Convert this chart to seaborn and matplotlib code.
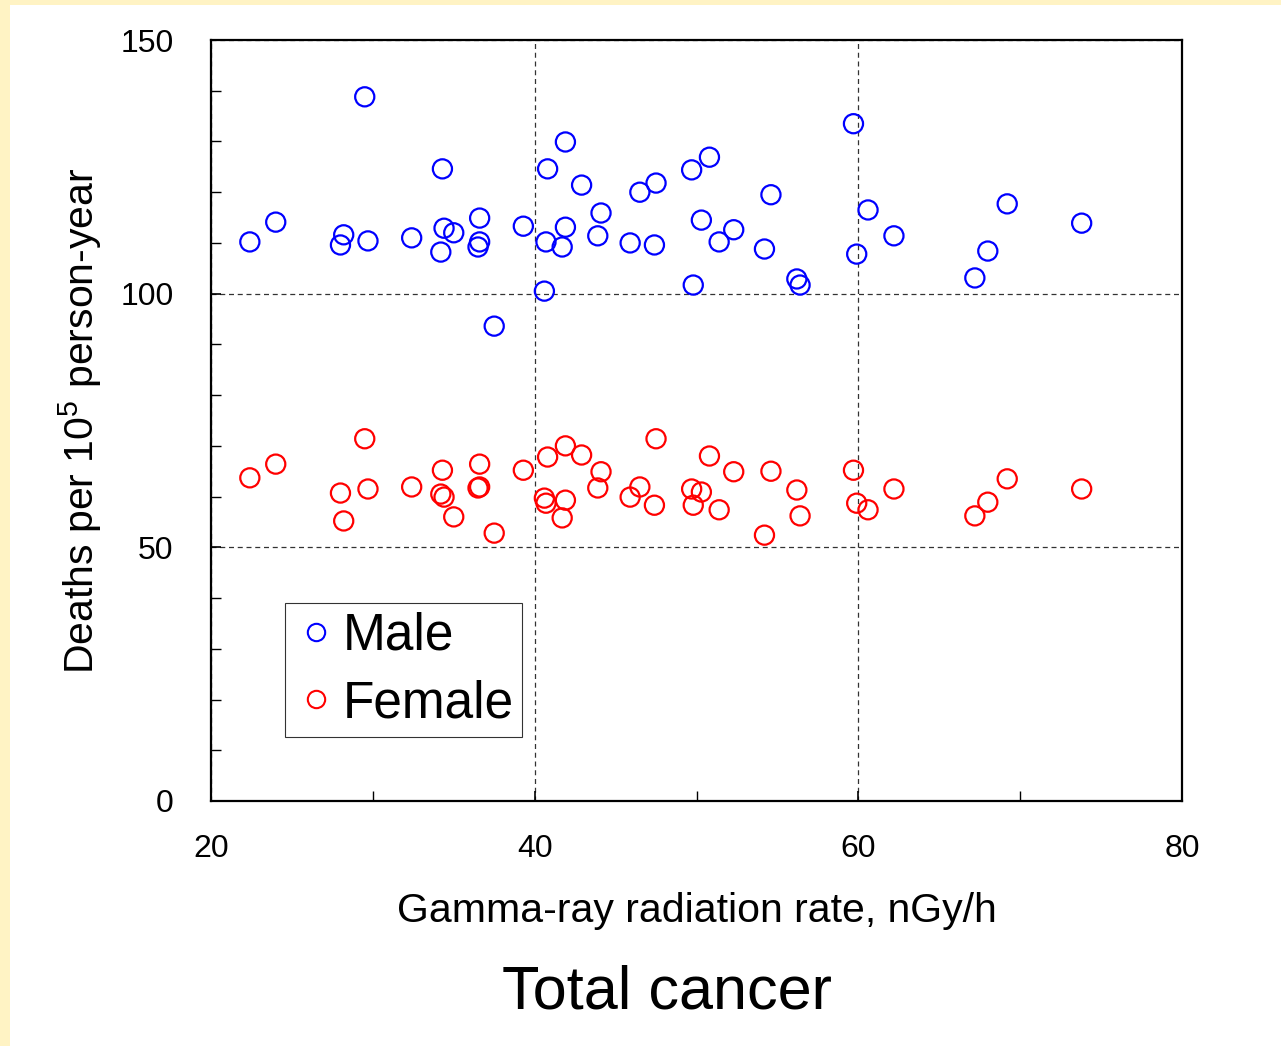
import matplotlib
matplotlib.use('Agg')
import matplotlib.pyplot as plt
from matplotlib.lines import Line2D
from matplotlib.patches import Rectangle
from matplotlib.ticker import MultipleLocator
import pandas as pd
import seaborn as sns

# Valeurs (taux de rayonnement gamma, deces / 10^5 personne-annee)
male_rate = [22.4, 24.0, 29.5, 28.2, 28.0, 29.7, 32.4, 34.3, 34.4, 34.2, 35.0, 36.6,
             36.6, 36.5, 37.5, 39.3, 40.6, 40.8, 40.7, 41.9, 41.9, 41.7, 42.9, 43.9,
             44.1, 45.9, 46.5, 47.5, 47.4, 49.7, 49.8, 50.8, 50.3, 51.4, 52.3, 54.2,
             54.6, 56.2, 56.4, 59.7, 59.9, 60.6, 62.2, 67.2, 68.0, 69.2, 73.8]
male_deaths = [110.2, 114.1, 138.8, 111.6, 109.6, 110.4, 111.0, 124.6, 112.9, 108.2, 112.0, 114.9,
               110.2, 109.2, 93.6, 113.3, 100.5, 124.6, 110.2, 129.9, 113.1, 109.2, 121.4, 111.4,
               115.9, 110.0, 120.0, 121.8, 109.6, 124.4, 101.7, 126.9, 114.5, 110.2, 112.6, 108.8,
               119.5, 102.9, 101.7, 133.5, 107.8, 116.5, 111.4, 103.1, 108.4, 117.7, 113.9]

female_rate = [22.4, 24.0, 29.5, 28.0, 28.2, 29.7, 32.4, 34.3, 34.2, 34.4, 35.0, 36.6,
               36.6, 36.5, 37.5, 39.3, 40.8, 40.6, 40.7, 41.9, 41.9, 41.7, 42.9, 43.9,
               44.1, 45.9, 46.5, 47.5, 47.4, 49.7, 49.8, 50.3, 50.8, 51.4, 52.3, 54.2,
               54.6, 56.2, 56.4, 59.7, 59.9, 60.6, 62.2, 67.2, 68.0, 69.2, 73.8]
female_deaths = [63.7, 66.4, 71.4, 60.7, 55.2, 61.5, 61.9, 65.2, 60.5, 59.9, 56.0, 66.4,
                 61.9, 61.7, 52.8, 65.2, 67.8, 59.7, 58.7, 70.0, 59.3, 55.8, 68.2, 61.7,
                 64.9, 59.9, 61.9, 71.4, 58.3, 61.5, 58.3, 60.9, 68.0, 57.4, 64.9, 52.4,
                 65.0, 61.3, 56.2, 65.2, 58.7, 57.4, 61.5, 56.2, 58.9, 63.5, 61.5]

series_names = ['Male', 'Female']
series_colors = ['#0000ff', '#ff0000']

df = pd.concat([
    pd.DataFrame({'rate': male_rate, 'deaths': male_deaths, 'sex': 'Male'}),
    pd.DataFrame({'rate': female_rate, 'deaths': female_deaths, 'sex': 'Female'}),
])

sns.set_style('white')
plt.rcParams['font.family'] = ['Liberation Sans', 'DejaVu Sans']
plt.rcParams['mathtext.fontset'] = 'custom'
plt.rcParams['mathtext.rm'] = 'Liberation Sans'
plt.rcParams['text.color'] = 'black'
plt.rcParams['axes.labelcolor'] = 'black'
plt.rcParams['xtick.color'] = 'black'
plt.rcParams['ytick.color'] = 'black'

fig = plt.figure(figsize=(12.81, 10.46), dpi=100)
fig.patch.set_facecolor('#fff3c4')
# fond blanc (bandeau jaune en haut et a gauche)
fig.patches.append(Rectangle((10 / 1281, 0), 1, 1 - 5 / 1046, transform=fig.transFigure,
                             facecolor='white', edgecolor='none', zorder=-10))

ax = fig.add_axes([211 / 1281, 1 - 801 / 1046, 971 / 1281, 761 / 1046])
ax.set_zorder(1)

for name, col in zip(series_names, series_colors):
    sub = df[df['sex'] == name]
    sns.scatterplot(data=sub, x='rate', y='deaths', ax=ax, s=190, marker='o',
                    facecolors='none', edgecolor=col, linewidth=1.6, legend=False, zorder=3)

for coll, col in zip(ax.collections, series_colors):
    coll.set_facecolor('none')
    coll.set_edgecolor(col)

ax.set_xlim(20, 80)
ax.set_ylim(0, 150)
ax.xaxis.set_major_locator(MultipleLocator(20))
ax.xaxis.set_minor_locator(MultipleLocator(10))
ax.yaxis.set_major_locator(MultipleLocator(50))
ax.yaxis.set_minor_locator(MultipleLocator(10))

ax.tick_params(axis='both', which='both', direction='in', colors='black', labelsize=23)
ax.tick_params(axis='both', which='major', length=7, width=1.2)
ax.tick_params(axis='both', which='minor', length=7, width=1.0)
ax.tick_params(axis='x', which='major', pad=24)
ax.tick_params(axis='y', which='major', pad=27)
ax.tick_params(left=True, bottom=True, which='both')

ax.grid(True, which='major', color='#333333', linestyle=(0, (4, 3)), linewidth=0.9)
for sp in ax.spines.values():
    sp.set_color('black')
    sp.set_linewidth(1.6)
    sp.set_visible(True)

ax.set_xlabel('Gamma-ray radiation rate, nGy/h', fontsize=29.5)
ax.xaxis.set_label_coords(0.5, -0.145)
ax.xaxis.label.set_va('center')
ax.set_ylabel(r'Deaths per $\mathregular{10^5}$ person-year', fontsize=29.5)
ax.yaxis.set_label_coords(-0.1349, 0.5)
ax.yaxis.label.set_va('center')

# legende faite a la main pour avoir les cercles vides
handles = [Line2D([], [], linestyle='none', marker='o', markersize=12.5, markerfacecolor='none',
                  markeredgecolor=c, markeredgewidth=1.5) for c in series_colors]
leg = ax.legend(handles, series_names, loc='lower left', bbox_to_anchor=(0.0762, 0.0841),
                borderaxespad=0, fontsize=37, fancybox=False, frameon=True,
                handletextpad=0.1, handlelength=0.85, labelspacing=0.36,
                borderpad=0.17)
leg.get_frame().set_edgecolor('black')
leg.get_frame().set_linewidth(0.8)

fig.text(667 / 1281, 1 - 993 / 1046, 'Total cancer', ha='center', va='center', fontsize=44)

fig.savefig('out.png', dpi=100, facecolor=fig.get_facecolor())
